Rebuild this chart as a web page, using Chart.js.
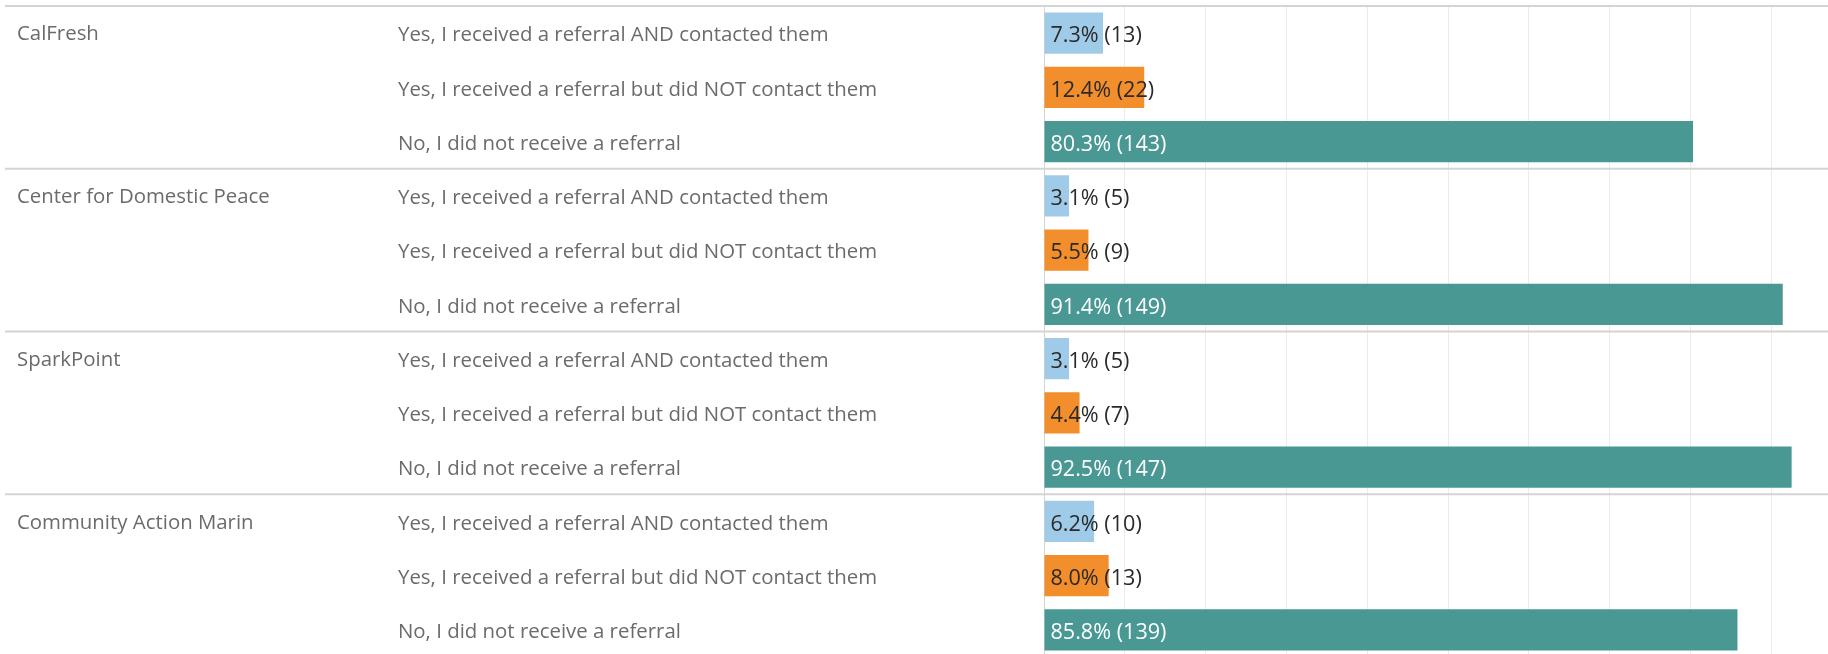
<!DOCTYPE html>
<html>
<head>
<meta charset="utf-8">
<script src="https://cdn.jsdelivr.net/npm/chart.js@4.4.1/dist/chart.umd.min.js"></script>
<style>
  html, body { margin: 0; padding: 0; background: #fff; overflow: hidden; }
  #wrap { position: relative; width: 1828px; height: 658px; }
</style>
</head>
<body>
<div id="wrap"><canvas id="chart" width="1828" height="658"></canvas></div>
<script>
// ---- Data ----
const groups = ['CalFresh', 'Center for Domestic Peace', 'SparkPoint', 'Community Action Marin'];
const responses = [
  'Yes, I received a referral AND contacted them',
  'Yes, I received a referral but did NOT contact them',
  'No, I did not receive a referral'
];
const pctContacted    = [7.3, 3.1, 3.1, 6.2];
const pctNotContacted = [12.4, 5.5, 4.4, 8.0];
const pctNoReferral   = [80.3, 91.4, 92.5, 85.8];
const nContacted      = [13, 5, 5, 10];
const nNotContacted   = [22, 9, 7, 13];
const nNoReferral     = [143, 149, 147, 139];

const barColors  = ['#a0cbe8', '#f28e2b', '#499894'];
const textColors = ['#2a2a2a', '#2a2a2a', '#ffffff'];

const FONT = '"Open Sans", sans-serif';

// ---- Flatten to one row per (group, response) ----
const rowLabels = [], groupLabels = [], values = [], counts = [], colors = [], kinds = [];
groups.forEach((g, i) => {
  const pcts = [pctContacted[i], pctNotContacted[i], pctNoReferral[i]];
  const ns   = [nContacted[i], nNotContacted[i], nNoReferral[i]];
  responses.forEach((r, j) => {
    rowLabels.push(r);
    groupLabels.push(j === 0 ? g : '');
    values.push(pcts[j]);
    counts.push(ns[j]);
    colors.push(barColors[j]);
    kinds.push(j);
  });
});

// ---- Plugins ----
// group separator lines, running across the label columns too
const separators = {
  id: 'separators',
  afterDraw(chart) {
    const { ctx, scales: { y }, chartArea } = chart;
    const half = (y.getPixelForValue(1) - y.getPixelForValue(0)) / 2;
    ctx.save();
    ctx.strokeStyle = '#d4d4d4';
    ctx.lineWidth = 2;
    const ys = [chartArea.top];
    for (let i = 3; i < rowLabels.length; i += 3) ys.push(y.getPixelForValue(i) - half);
    ys.forEach(py => {
      ctx.beginPath();
      ctx.moveTo(5, py);
      ctx.lineTo(chart.width, py);
      ctx.stroke();
    });
    ctx.restore();
  }
};

// "7.3% (13)" style labels at the bar start
const valueLabels = {
  id: 'valueLabels',
  afterDatasetsDraw(chart) {
    const { ctx } = chart;
    const meta = chart.getDatasetMeta(0);
    ctx.save();
    ctx.font = '21.6px ' + FONT;
    ctx.textAlign = 'left';
    ctx.textBaseline = 'middle';
    meta.data.forEach((bar, i) => {
      ctx.fillStyle = textColors[kinds[i]];
      ctx.fillText(values[i].toFixed(1) + '% (' + counts[i] + ')', bar.base + 6, bar.y + 3);
    });
    ctx.restore();
  }
};

// ---- Chart ----
new Chart(document.getElementById('chart'), {
  type: 'bar',
  data: {
    labels: rowLabels,
    datasets: [{
      data: values,
      backgroundColor: colors,
      borderWidth: 0,
      categoryPercentage: 1,
      barPercentage: 0.756
    }]
  },
  options: {
    indexAxis: 'y',
    responsive: false,
    animation: false,
    layout: { padding: { top: 6, left: 17, right: 0, bottom: 1 } },
    plugins: { legend: { display: false }, tooltip: { enabled: false } },
    scales: {
      x: {
        type: 'linear',
        min: 0,
        max: 97,
        ticks: { display: false, stepSize: 10 },
        grid: { color: c => c.tick.value === 0 ? 'rgba(0,0,0,0)' : '#ebebeb', drawTicks: false },
        border: { display: false },
        afterFit: s => { s.height = 0; }
      },
      y: {
        weight: 0,
        offset: true,
        ticks: { autoSkip: false, crossAlign: 'far', padding: -20, labelOffset: 2.5, color: '#6b6b6b', font: { family: FONT, size: 20.4 } },
        grid: { display: false },
        border: { display: true, color: '#d4d4d4', width: 1 },
        afterFit: s => { s.width = 646; }
      },
      yg: {
        type: 'category',
        position: 'left',
        labels: groupLabels,
        weight: 10,
        offset: true,
        ticks: { autoSkip: false, crossAlign: 'far', padding: -20, labelOffset: 1.5, color: '#6b6b6b', font: { family: FONT, size: 20.4 } },
        grid: { display: false },
        border: { display: false },
        afterFit: s => { s.width = 381; }
      }
    }
  },
  plugins: [separators, valueLabels]
});
</script>
</body>
</html>
